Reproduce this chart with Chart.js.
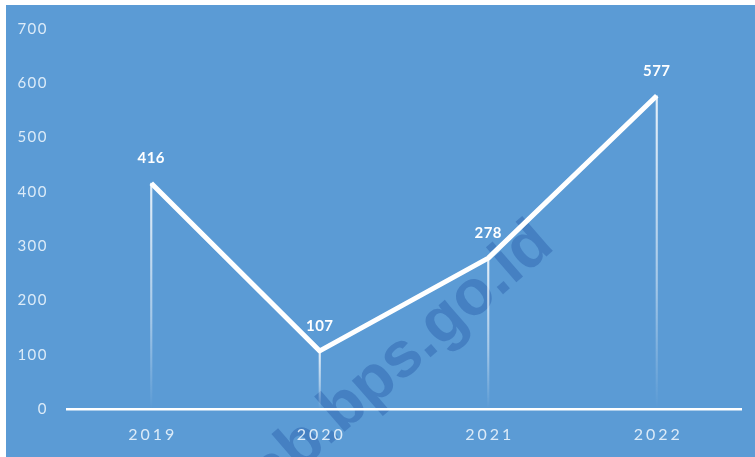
<!DOCTYPE html>
<html>
<head>
<meta charset="utf-8">
<script src="https://cdn.jsdelivr.net/npm/chart.js@4/dist/chart.umd.min.js"></script>
<style>
  html, body { margin: 0; padding: 0; background: #ffffff; }
  #wrap {
    position: absolute; left: 6px; top: 5px;
    width: 749px; height: 452px;
    background: #5b9bd5;
  }
</style>
</head>
<body>
<div id="wrap"><canvas id="canvas1"></canvas></div>
<script>
// data
const years = ['2019', '2020', '2021', '2022'];
const values = [416, 107, 278, 577];
const yTicks = [0, 100, 200, 300, 400, 500, 600, 700];
const watermark = 'kab.bps.go.id';

const tickColor = '#dcebf8';

// watermark behind everything
const watermarkPlugin = {
  id: 'watermark',
  beforeDraw(chart) {
    const ctx = chart.ctx;
    ctx.save();
    ctx.translate(550, 243);
    ctx.rotate(-41 * Math.PI / 180);
    ctx.font = 'bold 64px "Liberation Sans", Arial, sans-serif';
    ctx.fillStyle = 'rgba(30, 80, 160, 0.36)';
    ctx.textAlign = 'right';
    ctx.textBaseline = 'alphabetic';
    ctx.fillText(watermark, 0, 0);
    ctx.restore();
    ctx.letterSpacing = '1.5px';
  }
};

// value labels above the line + spaced x labels
const labelsPlugin = {
  id: 'labels',
  afterDatasetsDraw(chart) {
    const ctx = chart.ctx;
    const meta = chart.getDatasetMeta(1);
    ctx.save();
    ctx.letterSpacing = '0.5px';
    ctx.font = 'bold 15px Lato, sans-serif';
    ctx.fillStyle = '#ffffff';
    ctx.textAlign = 'center';
    ctx.textBaseline = 'middle';
    meta.data.forEach(function(pt, i) {
      ctx.fillText(values[i], pt.x, pt.y - 25);
    });

    const xs = chart.scales.x;
    ctx.letterSpacing = '3px';
    ctx.font = '16px Lato, sans-serif';
    ctx.fillStyle = tickColor;
    years.forEach(function(y, i) {
      ctx.fillText(y, xs.getPixelForTick(i) + 1.5, 430);
    });
    ctx.restore();
  }
};

function dropGradient(context) {
  const chart = context.chart;
  if (!chart.chartArea) return 'rgba(255,255,255,0.6)';
  const v = context.raw;
  const top = chart.scales.y.getPixelForValue(v);
  const bottom = chart.scales.y.getPixelForValue(0);
  const g = chart.ctx.createLinearGradient(0, top, 0, bottom);
  g.addColorStop(0, 'rgba(255,255,255,0.85)');
  g.addColorStop(0.6, 'rgba(255,255,255,0.45)');
  g.addColorStop(1, 'rgba(255,255,255,0.0)');
  return g;
}

let myChart1 = new Chart(document.getElementById('canvas1'), {
  data: {
    labels: years,
    datasets: [{
        type: 'bar',
        data: values,
        backgroundColor: dropGradient,
        barThickness: 1.5,
        order: 2
      },
      {
        type: 'line',
        data: values,
        borderColor: '#ffffff',
        borderWidth: 5,
        borderJoinStyle: 'round',
        pointRadius: 0,
        tension: 0,
        fill: false,
        order: 1
      }
    ]
  },
  options: {
    responsive: true,
    maintainAspectRatio: false,
    animation: false,
    layout: { padding: { left: 0, right: 14, top: 24, bottom: 0 } },
    plugins: {
      legend: { display: false },
      tooltip: { enabled: false }
    },
    scales: {
      x: {
        offset: true,
        grid: { display: false },
        border: { display: true, color: '#ffffff', width: 2.5 },
        ticks: { display: false },
        afterFit(scale) { scale.height = 48; }
      },
      y: {
        min: 0,
        max: 700,
        afterBuildTicks(scale) {
          scale.ticks = yTicks.map(v => ({ value: v }));
        },
        grid: { display: false, drawTicks: false },
        border: { display: false },
        ticks: {
          color: tickColor,
          padding: 19,
          font: { family: 'Lato', size: 15 }
        },
        afterFit(scale) {
          scale.width = 61;
          scale.paddingTop = 0;
        }
      }
    }
  },
  plugins: [watermarkPlugin, labelsPlugin]
});
</script>
</body>
</html>
